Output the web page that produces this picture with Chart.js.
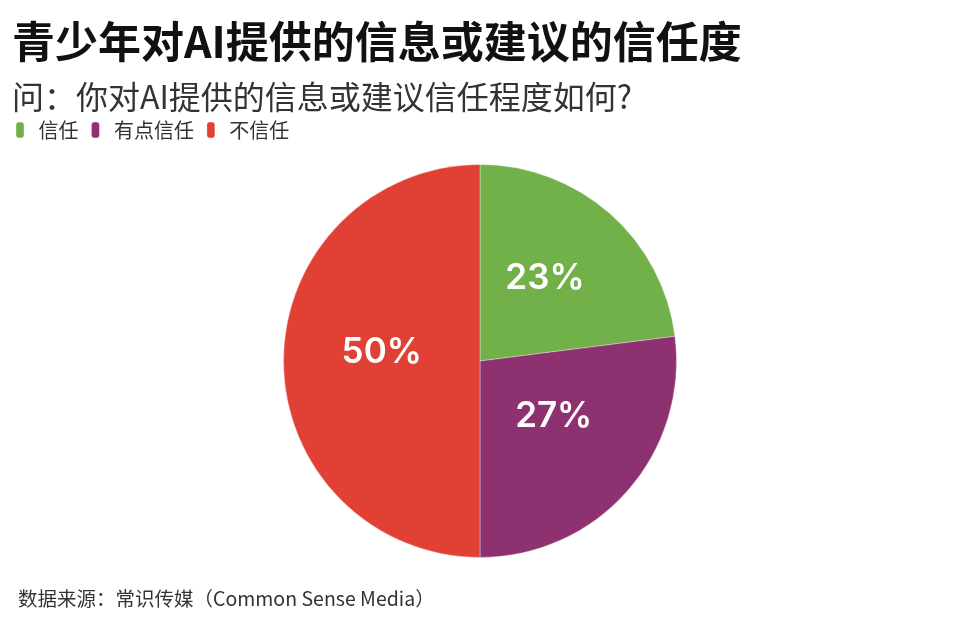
<!DOCTYPE html>
<html>
<head>
<meta charset="utf-8">
<script src="https://cdn.jsdelivr.net/npm/chart.js@4.4.1/dist/chart.umd.min.js"></script>
<style>
  html, body { margin: 0; padding: 0; background: #fff; }
  #wrap { position: relative; width: 960px; height: 631px; }
  #source {
    position: absolute; left: 18px; top: 583px;
    font-family: "Noto Sans CJK SC", "Noto Sans", sans-serif;
    font-size: 19.5px; color: #333;
  }
</style>
</head>
<body>
<div id="wrap">
  <canvas id="myChart" width="960" height="631"></canvas>
  <div id="source">数据来源：常识传媒（Common Sense Media）</div>
</div>
<script>
const labels = ['信任', '有点信任', '不信任'];
const shares = [23, 27, 50];
const colors = ['#72b04a', '#8e3170', '#e04134'];

const cjk = '"Noto Sans CJK SC", "Noto Sans", sans-serif';

// percent text in the middle of each slice (sits a little above the mid point)
const sliceLabels = {
  id: 'sliceLabels',
  afterDatasetsDraw(chart) {
    const ctx = chart.ctx;
    const meta = chart.getDatasetMeta(0);
    ctx.save();
    ctx.fillStyle = '#fff';
    ctx.font = '600 35px Inter, "Noto Sans", sans-serif';
    ctx.textAlign = 'center';
    ctx.textBaseline = 'middle';
    meta.data.forEach((arc, i) => {
      const p = arc.tooltipPosition();
      ctx.fillText(shares[i] + '%', p.x, p.y - 9);
    });
    ctx.restore();
  }
};

// push the pie a bit further down from the legend
const legendGap = {
  id: 'legendGap',
  beforeInit(chart) {
    const fit = chart.legend.fit;
    chart.legend.fit = function () {
      fit.bind(chart.legend)();
      this.height += 14;
    };
  }
};

const ctx = document.getElementById('myChart').getContext('2d');
const myChart = new Chart(ctx, {
  type: 'pie',
  data: {
    labels: labels,
    datasets: [{
      data: shares,
      backgroundColor: colors,
      borderColor: 'rgba(255,255,255,0.35)',
      borderWidth: 1
    }]
  },
  options: {
    responsive: false,
    animation: false,
    layout: { padding: { left: 12, right: 12, top: 0, bottom: 73 } },
    plugins: {
      title: {
        display: true,
        text: '青少年对AI提供的信息或建议的信任度',
        align: 'start',
        color: '#111',
        font: { family: cjk, size: 43, weight: 'bold' },
        padding: { top: 16, bottom: 0 }
      },
      subtitle: {
        display: true,
        text: '问：你对AI提供的信息或建议信任程度如何?',
        align: 'start',
        color: '#333',
        font: { family: cjk, size: 32 },
        padding: { top: 10, bottom: 0 }
      },
      legend: {
        align: 'start',
        labels: {
          color: '#333',
          font: { family: cjk, size: 20 },
          boxWidth: 8,
          boxHeight: 16,
          useBorderRadius: true,
          borderRadius: 3,
          padding: 4,
          // a little extra room around each legend text
          generateLabels(chart) {
            return Chart.overrides.pie.plugins.legend.labels.generateLabels(chart)
              .map(item => Object.assign(item, { text: ' ' + item.text + '  ' }));
          }
        }
      },
      tooltip: { enabled: false }
    }
  },
  plugins: [legendGap, sliceLabels]
});
</script>
</body>
</html>
